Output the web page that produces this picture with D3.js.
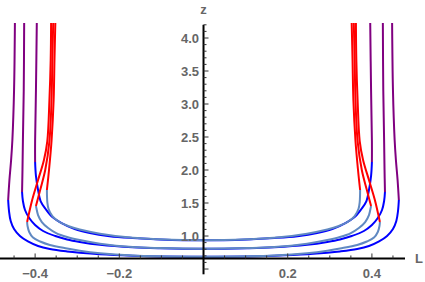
<!DOCTYPE html>
<html>
<head>
<meta charset="utf-8">
<script src="https://cdnjs.cloudflare.com/ajax/libs/d3/7.8.5/d3.min.js"></script>
<style>
    body { margin: 0; background: #fff; }
    text { font-family: "Liberation Sans", Arial, sans-serif; }
</style>
</head>
<body>
<script>
    // left half of every curve as [L, z]; the right half is its mirror image
    // family 1 = inner (tip z ~ 0.94), 2 = middle, 3 = outer (tip z ~ 0.69)
    var blue1 = [[0, 0.935], [-0.104, 0.949], [-0.168, 0.970], [-0.223, 0.998], [-0.270, 1.045],
                 [-0.306, 1.106], [-0.337, 1.197], [-0.359, 1.288], [-0.375, 1.409], [-0.387, 1.530],
                 [-0.393, 1.697], [-0.398, 1.909], [-0.400, 2.121]];
    var purple1 = [[-0.400, 2.121], [-0.400, 2.439], [-0.398, 3.212], [-0.396, 4.227]];
    var steel1 = [[0, 0.936], [-0.104, 0.950], [-0.168, 0.972], [-0.246, 1.036], [-0.294, 1.098],
                  [-0.318, 1.144], [-0.342, 1.212], [-0.359, 1.303], [-0.368, 1.409], [-0.371, 1.515],
                  [-0.372, 1.697]];
    var red1 = [[-0.372, 1.697], [-0.367, 2.0], [-0.361, 2.439], [-0.356, 3.061], [-0.354, 3.667], [-0.352, 4.227]];

    var blue2 = [[0, 0.807], [-0.104, 0.816], [-0.168, 0.830], [-0.246, 0.868], [-0.294, 0.911],
                 [-0.324, 0.948], [-0.352, 1.0], [-0.381, 1.076], [-0.400, 1.167], [-0.414, 1.273],
                 [-0.424, 1.394], [-0.429, 1.530], [-0.431, 1.667]];
    var purple2 = [[-0.431, 1.667], [-0.430, 2.0], [-0.429, 2.439], [-0.427, 3.212], [-0.426, 4.227]];
    var steel2 = [[0, 0.808], [-0.104, 0.817], [-0.168, 0.832], [-0.246, 0.884], [-0.294, 0.939],
                  [-0.324, 0.985], [-0.350, 1.045], [-0.369, 1.121], [-0.384, 1.212], [-0.393, 1.318],
                  [-0.397, 1.424], [-0.398, 1.455]];
    var red2 = [[-0.398, 1.455], [-0.388, 1.697], [-0.376, 2.0], [-0.366, 2.439], [-0.361, 3.061],
                [-0.359, 3.667], [-0.357, 4.227]];

    var blue3 = [[0, 0.686], [-0.104, 0.691], [-0.168, 0.702], [-0.246, 0.724], [-0.294, 0.747],
                 [-0.324, 0.766], [-0.365, 0.803], [-0.393, 0.848], [-0.417, 0.917], [-0.436, 1.0],
                 [-0.450, 1.106], [-0.458, 1.227], [-0.462, 1.379], [-0.464, 1.545]];
    var purple3 = [[-0.464, 1.545], [-0.461, 1.848], [-0.457, 2.152], [-0.454, 2.455], [-0.450, 3.212], [-0.448, 4.227]];
    var steel3 = [[0, 0.687], [-0.104, 0.692], [-0.168, 0.704], [-0.246, 0.740], [-0.294, 0.778],
                  [-0.324, 0.811], [-0.365, 0.864], [-0.388, 0.917], [-0.405, 0.977], [-0.414, 1.061],
                  [-0.418, 1.152], [-0.419, 1.212]];
    var red3 = [[-0.419, 1.212], [-0.407, 1.545], [-0.393, 1.848], [-0.379, 2.152], [-0.371, 2.439],
                [-0.366, 3.061], [-0.363, 3.667], [-0.362, 4.227]];

    var xTicks = [-0.4, -0.2, 0.2, 0.4];
    var yTicks = [1.0, 1.5, 2.0, 2.5, 3.0, 3.5, 4.0];
    var xAxisAt = 0.66;

    var width = 425, height = 282;
    var x = d3.scaleLinear().domain([-0.4834, 0.4786]).range([0, 405]);
    var y = d3.scaleLinear().domain([0.42, 4.2]).range([274.3, 24.8]);

    var svg = d3.select('body').append('svg')
                .attr('width', width).attr('height', height);

    var line = d3.line()
                 .x(function (d) { return x(d[0]); })
                 .y(function (d) { return y(d[1]); })
                 .curve(d3.curveCatmullRom.alpha(0.5));

    function mirror(pts) {
        return pts.map(function (d) { return [-d[0], d[1]]; });
    }
    // bottom arc: left corner -> tip -> right corner
    function across(pts) {
        return pts.slice().reverse().concat(mirror(pts).slice(1));
    }

    function draw(pts, color) {
        svg.append('path')
           .attr('d', line(pts))
           .attr('fill', 'none')
           .attr('stroke', color)
           .attr('stroke-width', 2);
    }

    var blues = [blue3, blue2, blue1];
    var purples = [purple3, purple2, purple1];
    var steels = [steel3, steel2, steel1];
    var reds = [red3, red2, red1];

    blues.forEach(function (b) { draw(across(b), '#0000ff'); });
    purples.forEach(function (p) { draw(p, '#800080'); draw(mirror(p), '#800080'); });
    steels.forEach(function (s) { draw(across(s), '#6089c2'); });
    reds.forEach(function (r) { draw(r, '#ff0000'); draw(mirror(r), '#ff0000'); });

    // axes
    var x0 = x(0), yAx = y(xAxisAt);
    svg.append('line').attr('x1', 0).attr('x2', 405).attr('y1', yAx).attr('y2', yAx)
       .attr('stroke', '#000').attr('stroke-width', 2);
    svg.append('line').attr('x1', x0).attr('x2', x0).attr('y1', y(4.2)).attr('y2', y(0.42))
       .attr('stroke', '#000').attr('stroke-width', 2);

    var xMinor = d3.range(-9, 10).map(function (i) { return i * 0.05; })
                   .filter(function (v) { return Math.abs(v) > 1e-6; });
    xMinor.forEach(function (v) {
        var major = Math.abs(Math.round(v / 0.2) * 0.2 - v) < 1e-6;
        svg.append('line').attr('x1', x(v)).attr('x2', x(v))
           .attr('y1', yAx).attr('y2', yAx - (major ? 5 : 3))
           .attr('stroke', '#333').attr('stroke-width', 1);
    });
    var yMinor = d3.range(5, 43).map(function (i) { return i * 0.1; });
    yMinor.forEach(function (v) {
        var major = Math.abs(Math.round(v / 0.5) * 0.5 - v) < 1e-6;
        svg.append('line').attr('x1', x0).attr('x2', x0 + (major ? 5 : 3))
           .attr('y1', y(v)).attr('y2', y(v))
           .attr('stroke', '#333').attr('stroke-width', 1);
    });

    svg.selectAll('.xl').data(xTicks).enter().append('text')
       .attr('x', function (d) { return x(d); })
       .attr('y', 278)
       .attr('text-anchor', 'middle')
       .attr('font-size', 13).attr('font-weight', 'bold').attr('fill', '#666')
       .text(function (d) { return (d < 0 ? '\u2212' : '') + Math.abs(d).toFixed(1); });

    svg.selectAll('.yl').data(yTicks).enter().append('text')
       .attr('x', x0 - 4.5)
       .attr('y', function (d) { return y(d) + 4.6; })
       .attr('text-anchor', 'end')
       .attr('font-size', 13).attr('font-weight', 'bold').attr('fill', '#666')
       .text(function (d) { return d.toFixed(1); });

    svg.append('text').attr('x', 415).attr('y', yAx + 5)
       .attr('font-size', 13).attr('font-weight', 'bold').attr('fill', '#666').text('L');
    svg.append('text').attr('x', x0).attr('y', 14)
       .attr('text-anchor', 'middle')
       .attr('font-size', 13).attr('font-weight', 'bold').attr('fill', '#666').text('z');
</script>
</body>
</html>
